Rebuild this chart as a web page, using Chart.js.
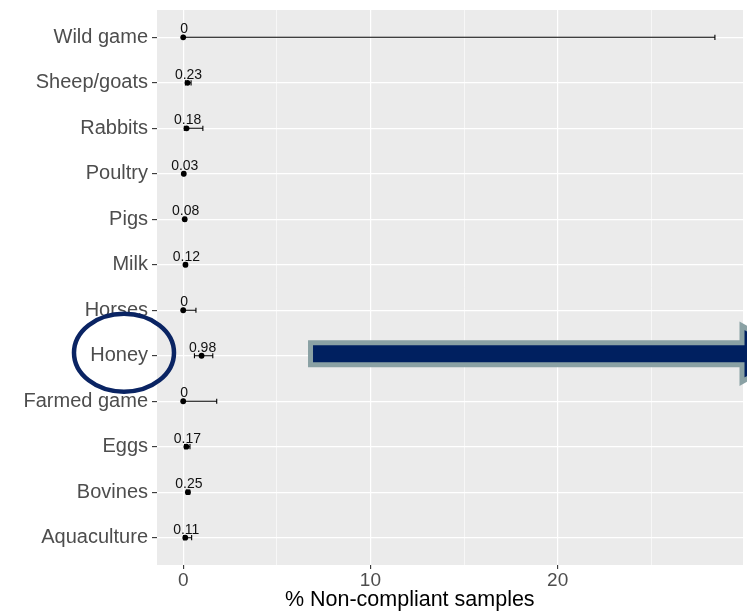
<!DOCTYPE html>
<html>
<head>
<meta charset="utf-8">
<script src="https://cdn.jsdelivr.net/npm/chart.js@4/dist/chart.umd.min.js"></script>
<style>
  html, body { margin: 0; padding: 0; background: #ffffff; }
  #wrap { width: 747px; height: 611px; position: relative; }
</style>
</head>
<body>
<div id="wrap"><canvas id="c" width="747" height="611"></canvas></div>
<script>
// Categories listed from bottom row to top row
const categories = ['Aquaculture', 'Bovines', 'Eggs', 'Farmed game', 'Honey', 'Horses',
                    'Milk', 'Pigs', 'Poultry', 'Rabbits', 'Sheep/goats', 'Wild game'];
// Point estimate (% non-compliant samples) and its interval
const estimates = [0.11, 0.25, 0.17, 0, 0.98, 0, 0.12, 0.08, 0.03, 0.18, 0.23, 0];
const lowerCI   = [0.02, 0.17, 0.07, 0, 0.60, 0, 0.06, 0.03, 0.00, 0.06, 0.12, 0];
const upperCI   = [0.45, 0.35, 0.36, 1.79, 1.58, 0.68, 0.20, 0.15, 0.08, 1.05, 0.42, 28.4];
const xTicks = [0, 5, 10, 15, 20, 25];
const xTickLabels = { 0: '0', 10: '10', 20: '20' };
const xTitle = '% Non-compliant samples';
const highlighted = 'Honey';

const FONT = '"Liberation Sans", Arial, Helvetica, sans-serif';

const points = estimates.map((v, i) => ({ x: v, y: i }));

// Grey panel behind the plot area
const panelBg = {
  id: 'panelBg',
  beforeDraw(chart) {
    const { ctx, chartArea: a } = chart;
    ctx.save();
    ctx.fillStyle = '#ebebeb';
    ctx.fillRect(a.left, a.top, a.right - a.left, a.bottom - a.top);
    ctx.restore();
  }
};

// Horizontal interval bars with end caps, drawn under the dots
const errorBars = {
  id: 'errorBars',
  beforeDatasetsDraw(chart) {
    const { ctx, scales: { x, y } } = chart;
    ctx.save();
    ctx.strokeStyle = '#000000';
    ctx.lineWidth = 1.1;
    categories.forEach((c, i) => {
      const py = y.getPixelForValue(i);
      const x0 = x.getPixelForValue(lowerCI[i]);
      const x1 = x.getPixelForValue(upperCI[i]);
      ctx.beginPath();
      ctx.moveTo(x0, py); ctx.lineTo(x1, py);
      ctx.moveTo(x0, py - 2.6); ctx.lineTo(x0, py + 2.6);
      ctx.moveTo(x1, py - 2.6); ctx.lineTo(x1, py + 2.6);
      ctx.stroke();
    });
    ctx.restore();
  }
};

// Value labels above each dot, the axis title, and the highlight ellipse and arrow
const overlays = {
  id: 'overlays',
  afterDraw(chart) {
    const { ctx, chartArea: a, scales: { x, y } } = chart;
    ctx.save();
    ctx.fillStyle = '#111111';
    ctx.font = '14px ' + FONT;
    ctx.textAlign = 'center';
    ctx.textBaseline = 'alphabetic';
    estimates.forEach((v, i) => {
      const px = x.getPixelForValue(v);
      const py = y.getPixelForValue(i);
      ctx.fillText(String(v), px + 1, py - 4);
    });

    // x-axis title
    ctx.fillStyle = '#000000';
    ctx.font = '21.5px ' + FONT;
    ctx.textBaseline = 'middle';
    ctx.fillText(xTitle, x.getPixelForValue(12.1), 600);

    const hi = categories.indexOf(highlighted);
    const hy = y.getPixelForValue(hi);

    // Arrow pointing right from the highlighted row
    const ax0 = x.getPixelForValue(6.8);
    const axHead = a.right - 1;
    const cy = hy - 2;
    const bodyH = 11, headH = 28, tip = axHead + 48;
    ctx.beginPath();
    ctx.moveTo(ax0, cy - bodyH);
    ctx.lineTo(axHead, cy - bodyH);
    ctx.lineTo(axHead, cy - headH);
    ctx.lineTo(tip, cy);
    ctx.lineTo(axHead, cy + headH);
    ctx.lineTo(axHead, cy + bodyH);
    ctx.lineTo(ax0, cy + bodyH);
    ctx.closePath();
    ctx.fillStyle = '#002060';
    ctx.fill();
    ctx.lineWidth = 5;
    ctx.lineJoin = 'miter';
    ctx.strokeStyle = '#8aa1a4';
    ctx.stroke();

    // Ellipse around the highlighted category label
    ctx.beginPath();
    ctx.ellipse(a.left - 33, hy - 3, 50, 39, 0, 0, Math.PI * 2);
    ctx.lineWidth = 4.5;
    ctx.strokeStyle = '#0a2463';
    ctx.stroke();
    ctx.restore();
  }
};

new Chart(document.getElementById('c'), {
  type: 'scatter',
  data: {
    datasets: [{
      data: points,
      backgroundColor: '#000000',
      borderColor: '#000000',
      pointRadius: 2.9,
      pointHoverRadius: 2.9,
      borderWidth: 0
    }]
  },
  options: {
    responsive: false,
    animation: false,
    events: [],
    layout: { padding: { left: 0, right: 4, top: 10, bottom: 0 } },
    plugins: { legend: { display: false }, tooltip: { enabled: false } },
    scales: {
      x: {
        type: 'linear',
        min: -1.4,
        max: 29.9,
        afterBuildTicks(scale) { scale.ticks = xTicks.map(v => ({ value: v })); },
        afterFit(scale) { scale.height = 46; scale.paddingLeft = 0; scale.paddingRight = 0; },
        border: { display: false },
        grid: {
          color: '#ffffff',
          lineWidth: ctx => (ctx.tick && ctx.tick.value % 10 === 0 ? 1.2 : 0.6),
          tickColor: ctx => (ctx.tick && ctx.tick.value % 10 === 0 ? '#333333' : 'rgba(0,0,0,0)'),
          tickLength: 4,
          tickWidth: 1.1
        },
        ticks: {
          autoSkip: false,
          maxRotation: 0,
          padding: 0,
          color: '#4d4d4d',
          font: { family: FONT, size: 19 },
          callback: v => (xTickLabels[v] !== undefined ? xTickLabels[v] : '')
        }
      },
      y: {
        type: 'linear',
        min: -0.6,
        max: 11.6,
        afterBuildTicks(scale) { scale.ticks = categories.map((c, i) => ({ value: i })); },
        afterFit(scale) { scale.width = 157; scale.paddingTop = 0; scale.paddingBottom = 0; },
        border: { display: false },
        grid: {
          color: '#ffffff',
          lineWidth: 1.2,
          tickColor: '#333333',
          tickLength: 5,
          tickWidth: 1.1
        },
        ticks: {
          autoSkip: false,
          padding: 4,
          color: '#4d4d4d',
          font: { family: FONT, size: 20 },
          callback: v => categories[v]
        }
      }
    }
  },
  plugins: [panelBg, errorBars, overlays]
});
</script>
</body>
</html>
